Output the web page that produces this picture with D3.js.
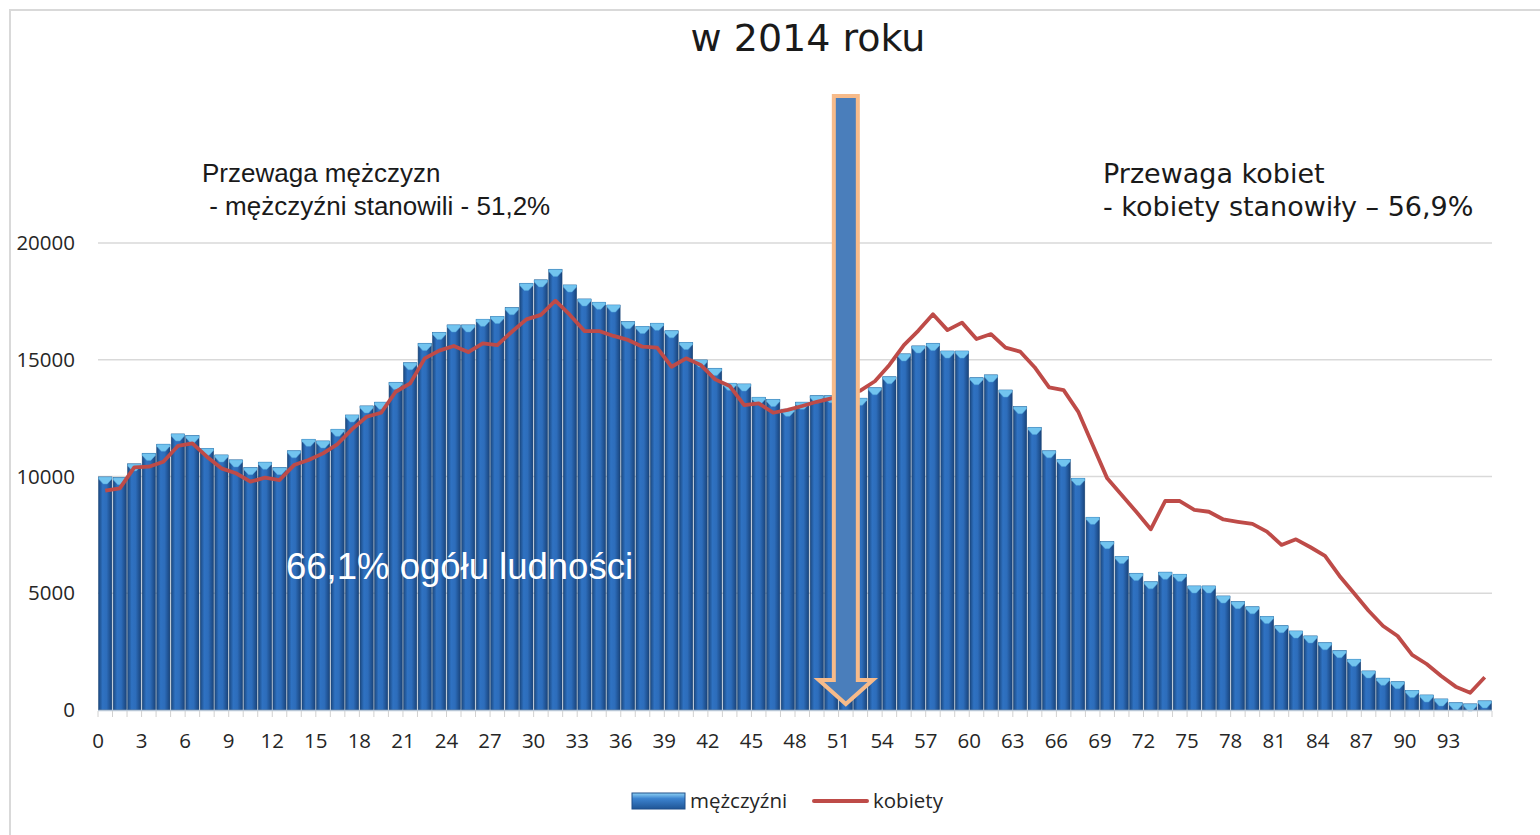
<!DOCTYPE html>
<html>
<head>
<meta charset="utf-8">
<script src="https://cdn.jsdelivr.net/npm/d3@7"></script>
<style>
  body { margin: 0; background: #fff; }
  svg { display: block; }
</style>
</head>
<body>
<svg id="svg" width="1540" height="835"></svg>
<script>
var ages = d3.range(0, 96);

// mężczyźni (bars)
var men = [9980, 9950, 10540, 10990, 11380, 11820, 11750, 11200, 10920, 10710,
  10380, 10610, 10380, 11100, 11590, 11520, 12020, 12630, 13020, 13180,
  14030, 14870, 15700, 16170, 16490, 16490, 16730, 16850, 17230, 18270,
  18420, 18870, 18200, 17600, 17460, 17340, 16630, 16420, 16560, 16240,
  15740, 14990, 14630, 13990, 13960, 13390, 13300, 12880, 13180, 13460,
  13460, 13500, 13350, 13800, 14270, 15250, 15590, 15700, 15370, 15370,
  14230, 14350, 13700, 12990, 12100, 11100, 10730, 9920, 8250, 7210,
  6570, 5850, 5490, 5900, 5810, 5310, 5310, 4880, 4640, 4420,
  4000, 3610, 3380, 3170, 2880, 2540, 2170, 1670, 1360, 1210,
  830, 640, 470, 310, 260, 390];

// kobiety (line)
var women = [9390, 9490, 10390, 10420, 10630, 11310, 11420, 10850, 10350, 10140,
  9780, 9950, 9850, 10490, 10710, 10990, 11390, 12030, 12560, 12730,
  13630, 13990, 15060, 15390, 15590, 15330, 15700, 15630, 16200, 16730,
  16920, 17530, 16920, 16230, 16230, 16020, 15850, 15560, 15520, 14700,
  15060, 14780, 14160, 13880, 13060, 13130, 12730, 12850, 13020, 13200,
  13350, 13500, 13680, 14080, 14780, 15630, 16250, 16950, 16270, 16590,
  15890, 16100, 15520, 15350, 14680, 13820, 13700, 12780, 11350, 9920,
  9210, 8490, 7740, 8960, 8950, 8570, 8490, 8160, 8060, 7970,
  7640, 7070, 7310, 6970, 6600, 5740, 5000, 4250, 3600, 3170,
  2360, 1970, 1460, 1000, 740, 1400];

var yTicks = [0, 5000, 10000, 15000, 20000];
var xLabelAges = d3.range(0, 96, 3);
var splitAge = 51;

var title = "w 2014 roku";
var leftNote = ["Przewaga mężczyzn", " - mężczyźni stanowili - 51,2%"];
var rightNote = ["Przewaga kobiet", "- kobiety stanowiły \u2013 56,9%"];
var middleNote = "66,1% ogółu ludności";
var seriesNames = ["mężczyźni", "kobiety"];

var svg = d3.select("#svg");

var x = d3.scaleBand().domain(ages).range([98, 1492]).paddingInner(0.09).paddingOuter(0.045);
var step = x.step();
var y = d3.scaleLinear().domain([0, 20000]).range([710, 243]);

var defs = svg.append("defs");
var grad = defs.append("linearGradient").attr("id", "barGrad")
    .attr("x1", 0).attr("x2", 1).attr("y1", 0).attr("y2", 0);
grad.append("stop").attr("offset", "0%").attr("stop-color", "#1b4982");
grad.append("stop").attr("offset", "30%").attr("stop-color", "#2f72c2");
grad.append("stop").attr("offset", "60%").attr("stop-color", "#2d6dbb");
grad.append("stop").attr("offset", "100%").attr("stop-color", "#19447c");

var legGrad = defs.append("linearGradient").attr("id", "legGrad")
    .attr("x1", 0).attr("x2", 0).attr("y1", 0).attr("y2", 1);
legGrad.append("stop").attr("offset", "0%").attr("stop-color", "#8fd3f5");
legGrad.append("stop").attr("offset", "35%").attr("stop-color", "#3c83cf");
legGrad.append("stop").attr("offset", "100%").attr("stop-color", "#1f5596");

// outer frame
svg.append("rect").attr("x", 10).attr("y", 10).attr("width", 1600).attr("height", 900)
    .attr("fill", "none").attr("stroke", "#d9d9d9").attr("stroke-width", 2);

// gridlines
svg.append("g").selectAll("line").data(yTicks.filter(function(d){ return d > 0; })).enter()
  .append("line")
    .attr("x1", 98).attr("x2", 1492)
    .attr("y1", function(d){ return y(d); }).attr("y2", function(d){ return y(d); })
    .attr("stroke", "#d9d9d9").attr("stroke-width", 1.3);

// y labels
svg.append("g").selectAll("text").data(yTicks).enter()
  .append("text")
    .attr("x", 75).attr("y", function(d){ return y(d); })
    .attr("dy", "0.35em").attr("text-anchor", "end")
    .attr("font-family", "'Open Sans', sans-serif").attr("font-size", 20.5)
    .attr("fill", "#262626")
    .text(function(d){ return d; });

// bars
var bars = svg.append("g");
bars.selectAll("rect").data(ages).enter()
  .append("rect")
    .attr("x", function(d){ return x(d); })
    .attr("width", x.bandwidth())
    .attr("y", function(d){ return y(men[d]); })
    .attr("height", function(d){ return y(0) - y(men[d]); })
    .attr("fill", "url(#barGrad)")
    .attr("stroke", "#1a4576").attr("stroke-width", 0.6);

// light bevel caps on top of each bar
bars.selectAll("path").data(ages).enter()
  .append("path")
    .attr("d", function(d){
      var x0 = x(d), x1 = x(d) + x.bandwidth(), xc = (x0 + x1) / 2, t = y(men[d]);
      return "M" + x0 + "," + t + "L" + x1 + "," + t + "L" + x1 + "," + (t + 2) +
        "L" + (xc + 2) + "," + (t + 7) + "L" + (xc - 2) + "," + (t + 7) +
        "L" + x0 + "," + (t + 2) + "Z";
    })
    .attr("fill", "#72c4ef").attr("stroke", "#4fa3d8").attr("stroke-width", 0.5);

// x axis line + ticks
svg.append("line").attr("x1", 98).attr("x2", 1492).attr("y1", 710.5).attr("y2", 710.5)
    .attr("stroke", "#b7c6d6").attr("stroke-width", 1.5);
svg.append("g").selectAll("line").data(d3.range(0, 97)).enter()
  .append("line")
    .attr("x1", function(d){ return 98 + d * step; })
    .attr("x2", function(d){ return 98 + d * step; })
    .attr("y1", 711).attr("y2", 717)
    .attr("stroke", "#d0d0d0").attr("stroke-width", 1);

svg.append("g").selectAll("text").data(xLabelAges).enter()
  .append("text")
    .attr("x", function(d){ return 98 + d * step; })
    .attr("y", 748)
    .attr("text-anchor", "middle")
    .attr("font-family", "'Open Sans', sans-serif").attr("font-size", 20.5)
    .attr("fill", "#262626")
    .text(function(d){ return d; });

// women line
var line = d3.line()
    .x(function(d){ return x(d) + x.bandwidth() / 2; })
    .y(function(d){ return y(women[d]); });
svg.append("path").datum(ages)
    .attr("d", line)
    .attr("fill", "none").attr("stroke", "#be4b48").attr("stroke-width", 3.8)
    .attr("stroke-linejoin", "round");

// big arrow at age 51
var ax = x(splitAge) + x.bandwidth() / 2;
var arrowPts = [[ax - 12, 96], [ax + 12, 96], [ax + 12, 680], [ax + 27, 680],
  [ax, 704], [ax - 27, 680], [ax - 12, 680]];
svg.append("path")
    .attr("d", d3.line()(arrowPts) + "Z")
    .attr("fill", "#4a7ebb").attr("stroke", "#f7bb8a").attr("stroke-width", 4)
    .attr("stroke-linejoin", "miter");

// texts
svg.append("text").attr("x", 808).attr("y", 51).attr("text-anchor", "middle")
    .attr("font-family", "'DejaVu Sans', sans-serif")
    .attr("font-size", 38).attr("fill", "#1a1a1a").text(title);

svg.append("g").selectAll("text").data(leftNote).enter()
  .append("text")
    .attr("x", 202).attr("y", function(d, i){ return 182 + i * 33; })
    .attr("font-family", "'Liberation Sans', Arial, sans-serif").attr("font-size", 26)
    .attr("fill", "#1a1a1a").attr("xml:space", "preserve")
    .text(function(d){ return d; });

svg.append("g").selectAll("text").data(rightNote).enter()
  .append("text")
    .attr("x", 1103).attr("y", function(d, i){ return 183 + i * 33; })
    .attr("font-family", "'DejaVu Sans', sans-serif").attr("font-size", 27)
    .attr("fill", "#1a1a1a")
    .text(function(d){ return d; });

svg.append("text").attr("x", 286).attr("y", 579)
    .attr("font-family", "'Liberation Sans', Arial, sans-serif").attr("font-size", 36.5)
    .attr("fill", "#ffffff").text(middleNote);

// legend
var leg = svg.append("g");
leg.append("rect").attr("x", 632).attr("y", 793).attr("width", 53).attr("height", 16)
    .attr("fill", "url(#legGrad)").attr("stroke", "#1f4f8a").attr("stroke-width", 1);
leg.append("text").attr("x", 690).attr("y", 808)
    .attr("font-family", "'Open Sans', sans-serif").attr("font-size", 20.5)
    .attr("fill", "#262626").text(seriesNames[0]);
leg.append("line").attr("x1", 814).attr("x2", 867).attr("y1", 801).attr("y2", 801)
    .attr("stroke", "#be4b48").attr("stroke-width", 4).attr("stroke-linecap", "round");
leg.append("text").attr("x", 873).attr("y", 808)
    .attr("font-family", "'Open Sans', sans-serif").attr("font-size", 20.5)
    .attr("fill", "#262626").text(seriesNames[1]);
</script>
</body>
</html>
